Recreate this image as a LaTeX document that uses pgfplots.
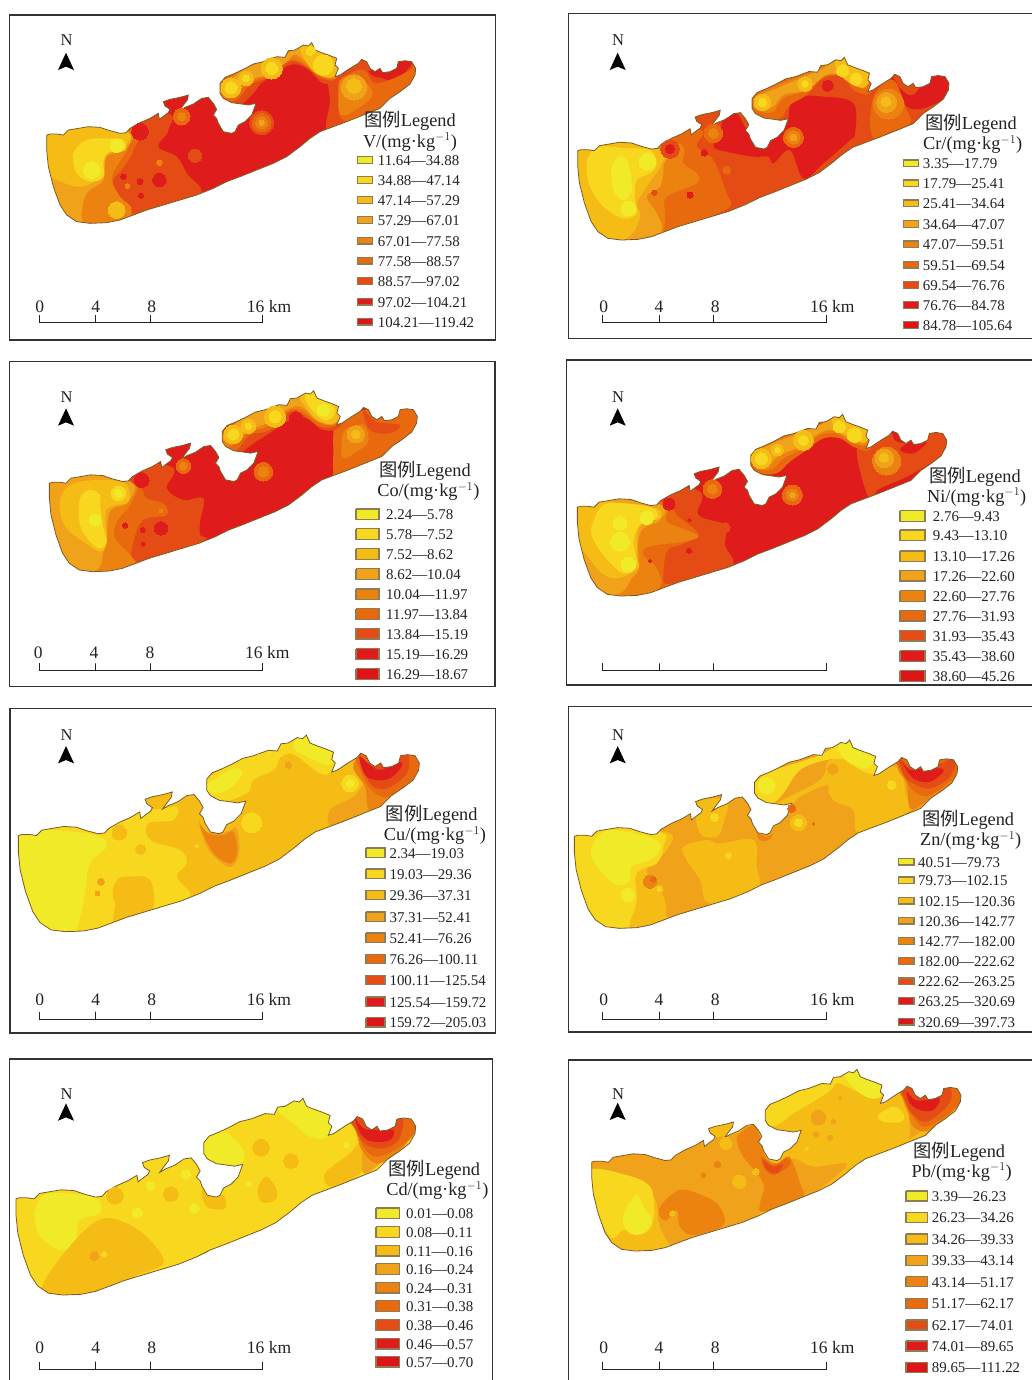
\documentclass[border=0pt]{standalone}
\usepackage{pgfplots}
\usepackage{pgfplotstable}
\usepackage{fontspec}
\setmainfont{Liberation Serif}
\newfontfamily\cjk{Noto Sans CJK SC}
\pgfplotsset{compat=1.18}
\definecolor{a1}{HTML}{F0EA28}\definecolor{a2}{HTML}{F7D81E}\definecolor{a3}{HTML}{F6BC16}
\definecolor{a4}{HTML}{F1A21B}\definecolor{a5}{HTML}{EC8210}\definecolor{a6}{HTML}{E9690F}
\definecolor{a7}{HTML}{E54B14}\definecolor{a8}{HTML}{E01B1B}\definecolor{a9}{HTML}{DD1418}
\definecolor{swb}{HTML}{8E7C58}\definecolor{cst}{HTML}{7A5A20}\definecolor{ink}{HTML}{222222}\definecolor{frm}{HTML}{333333}
\pgfplotstableread{
x y
-4000 -4000
6000 -4000
6000 5000
-4000 5000
-4000 -4000
140 405
150 402
170 402
190 405
205 390
235 385
265 380
300 382
330 392
360 400
378 398
390 385
420 368
450 355
475 340
478 358
495 345
505 338
510 328
495 318
490 305
510 298
540 292
565 285
562 300
548 318
538 332
555 322
580 312
605 295
625 292
640 310
650 328
640 345
650 355
655 370
670 395
695 400
705 395
715 375
735 365
755 345
768 310
745 315
725 312
695 308
670 295
660 280
660 250
675 232
700 222
730 208
760 192
790 185
830 170
855 172
865 152
885 150
910 135
925 138
935 128
945 150
965 158
985 165
1010 175
1005 195
1015 205
1005 230
1020 225
1050 205
1075 190
1085 178
1100 185
1110 205
1125 215
1140 205
1148 218
1170 215
1190 205
1195 185
1215 182
1235 185
1247 205
1245 225
1230 252
1200 275
1170 295
1140 325
1090 345
1040 365
1000 380
960 395
930 415
900 440
860 470
820 490
770 510
720 530
680 545
640 565
590 585
540 600
490 615
440 630
400 645
360 660
320 668
270 670
230 665
200 645
180 615
160 560
145 500
140 450
140 405
}\coast
\pgfplotsset{
 panel/.style n args={6}{at={(#1pt,-#2pt)},anchor=north west,scale only axis,width=#3pt,height=#4pt,
   xmin=0,xmax=#5,ymin=0,ymax=#6,y dir=reverse,hide axis,clip=true},
 table/cxy/.style={x expr={\cW+(\thisrowno{0}-140)*(\cE-\cW)/1107},y expr={\cT+(\thisrowno{1}-128)*(\cB-\cT)/542}}
}
\newcommand\Rg[2]{\addplot[fill=#1,draw=none,smooth cycle,tension=.6] coordinates {#2};}
\newcommand\Ci[4]{\addplot[only marks,mark=*,mark size=#2/3,color=#1,mark options={solid,fill=#1,draw=#1,line width=0pt}] coordinates {(#3,#4)};}
\newcommand\Base[5]{\def\cW{#1}\def\cE{#2}\def\cT{#3}\def\cB{#4}%
 \addplot[fill=#5,draw=none,skip coords between index={0}{5}] table[cxy] {\coast};}
\newcommand\Mask{\addplot[fill=white,draw=none,even odd rule] table[cxy] {\coast};
 \addplot[draw=cst,line width=.8pt,fill=none,skip coords between index={0}{5}] table[cxy] {\coast};}
\newcommand\Frame[4]{\addplot[draw=frm,line width=1.6pt] coordinates {(#1,#3) (#2,#3) (#2,#4) (#1,#4) (#1,#3)};}
\newcommand\North[3]{\pgfmathsetmacro\na{#1-24}\pgfmathsetmacro\nb{#1+24}\pgfmathsetmacro\nt{#3}\pgfmathsetmacro\nc{#3+52}\pgfmathsetmacro\nd{#3+42}%
 \addplot[fill=black,draw=none] coordinates {(#1,\nt) (\nb,\nc) (#1,\nd) (\na,\nc) (#1,\nt)};
 \node[font=\fontsize{16.5}{18}\selectfont,text=ink,yshift=-1pt,xshift=.5pt] at (axis cs:#1,#2) {N};}
\newcommand\Bar[3]{\pgfmathsetmacro\ba{#1}\pgfmathsetmacro\bb{#1+170}\pgfmathsetmacro\bc{#1+333}\pgfmathsetmacro\bd{#1+671}%
 \addplot[draw=ink,line width=.9pt] coordinates {(\ba,#3) (\ba,#2) (\bb,#2) (\bb,#3) (\bb,#2) (\bc,#2) (\bc,#3) (\bc,#2) (\bd,#2) (\bd,#3)};}
\newcommand\BarL[5]{\def\F{\fontsize{17.5}{20}\selectfont}%
 \node[font=\F,text=ink,xshift=.5pt] at (axis cs:#1,#5) {0};\node[font=\F,text=ink] at (axis cs:#2,#5) {4};
 \node[font=\F,text=ink] at (axis cs:#3,#5) {8};\node[font=\F,text=ink,anchor=west,inner sep=0pt] at (axis cs:#4,#5) {16 km};}
\newcommand\Title[5]{\node[font=\fontsize{18.3}{20}\selectfont,text=ink,yshift=-.7pt] at (axis cs:#1,#2) {{\cjk 图例}Legend};
 \node[font=\fontsize{18.3}{20}\selectfont,text=ink,yshift=-.3pt] at (axis cs:#3,#4) {#5/(mg·kg$^{-1}$)};}
\newcommand\Leg[3]{\pgfmathsetmacro\ya{#1-\LH}\pgfmathsetmacro\yb{#1+\LH}%
 \addplot[fill=#2,draw=swb,line width=1.1pt] coordinates {(\LA,\ya) (\LB,\ya) (\LB,\yb) (\LA,\yb) (\LA,\ya)};
 \node[anchor=west,inner sep=0pt,font=\fontsize{14.9}{16}\selectfont,text=ink,yshift=-.6pt] at (axis cs:\LX,#1) {#3};}
\begin{document}
\begin{tikzpicture}
\useasboundingbox (0,0) rectangle (1032pt,-1380pt);
%%%%%%%%%%% V
\begin{axis}[panel={0}{0}{510}{350}{1530}{1050}]
\Base{140}{1247}{128}{670}{a8}
\Rg{a7}{(100,350)(480,335)(505,390)(475,440)(530,470)(560,520)(598,590)(400,680)(100,700)}
\Rg{a6}{(100,350)(395,385)(400,450)(365,510)(340,540)(350,590)(400,650)(330,690)(100,700)}
\Rg{a5}{(100,350)(380,390)(385,440)(350,500)(335,540)(360,590)(395,630)(340,690)(100,700)}
\Rg{a4}{(100,350)(370,395)(375,450)(320,470)(310,540)(260,580)(245,640)(240,700)(100,700)}
\Rg{a3}{(100,350)(370,390)(372,440)(320,465)(300,530)(240,560)(170,540)(140,520)(100,450)}
\Rg{a2}{(225,450)(260,420)(320,415)(370,420)(375,450)(330,455)(310,480)(310,530)(270,545)(230,520)(220,480)}
\Ci{a1}{25}{275}{510}\Ci{a1}{20}{350}{437}\Ci{a3}{25}{350}{630}
\Ci{a8}{20}{478}{540}\Ci{a8}{9}{420}{545}\Ci{a8}{8}{423}{587}\Ci{a8}{8}{370}{530}\Ci{a5}{7}{382}{558}\Ci{a5}{8}{478}{488}
\Ci{a8}{25}{420}{395}\Ci{a6}{25}{545}{350}\Ci{a5}{12}{545}{350}\Ci{a7}{20}{585}{467}
\Ci{a7}{36}{785}{368}\Ci{a6}{28}{785}{368}\Ci{a5}{18}{785}{368}\Ci{a4}{8}{785}{368}
\Rg{a7}{(985,240)(1010,230)(1090,170)(1120,220)(1190,240)(1260,170)(1260,260)(1000,400)(990,300)}
\Rg{a6}{(1020,350)(1030,240)(1090,210)(1130,250)(1230,210)(1260,170)(1260,260)(1100,360)}
\Rg{a8}{(1105,215)(1130,210)(1160,225)(1130,232)}
\Rg{a5}{(1020,240)(1060,225)(1100,250)(1115,290)(1050,340)(1020,340)(1015,290)}
\Ci{a4}{38}{1062}{262}\Ci{a3}{22}{1062}{258}
\Rg{a7}{(650,250)(760,180)(860,150)(900,130)(1020,170)(1020,240)(970,250)(920,205)(870,195)(790,245)(760,280)(720,315)(680,315)(650,290)}
\Rg{a6}{(655,255)(750,190)(860,150)(935,125)(1015,175)(1005,238)(960,232)(910,195)(870,185)(810,230)(750,255)(710,300)(665,300)}
\Rg{a5}{(660,260)(750,195)(860,155)(930,130)(1015,175)(1005,235)(960,225)(910,190)(870,180)(810,225)(750,245)(700,290)(660,290)}
\Rg{a4}{(670,260)(740,205)(860,160)(935,130)(1010,180)(1000,225)(950,215)(890,165)(860,185)(800,225)(740,240)(695,280)(670,285)}
\Rg{a3}{(900,140)(935,125)(960,155)(1012,175)(1002,230)(950,222)(915,180)}
\Ci{a3}{30}{693}{263}\Ci{a2}{18}{693}{263}\Ci{a3}{22}{738}{235}\Ci{a2}{10}{738}{235}\Ci{a3}{32}{815}{205}\Ci{a2}{18}{815}{205}\Ci{a2}{30}{970}{195}\Ci{a2}{14}{932}{152}
\Mask
\Frame{28}{1486}{45}{1020}
\North{198}{118}{158}
\Bar{117}{968}{945}\BarL{118}{287}{455}{740}{920}
\Title{1230}{360}{1230}{425}{V}
\def\LA{1072}\def\LB{1117}\def\LH{10}\def\LX{1133}
\Leg{480}{a1}{11.64—34.88}\Leg{540}{a2}{34.88—47.14}\Leg{600}{a3}{47.14—57.29}\Leg{660}{a4}{57.29—67.01}\Leg{722}{a5}{67.01—77.58}\Leg{782}{a6}{77.58—88.57}\Leg{843}{a7}{88.57—97.02}\Leg{905}{a8}{97.02—104.21}\Leg{965}{a9}{104.21—119.42}
\end{axis}
%%%%%%%%%%% Cr
\begin{axis}[panel={560}{0}{472}{350}{1416}{1050}]
\Base{53}{1167}{172}{720}{a7}
\Rg{a6}{(0,400)(400,385)(410,440)(460,480)(500,580)(510,620)(430,660)(300,730)(0,760)}
\Rg{a5}{(0,400)(340,425)(370,490)(410,520)(410,550)(320,590)(315,640)(310,690)(280,730)(0,760)}
\Rg{a4}{(0,400)(295,450)(310,500)(300,560)(260,590)(290,640)(305,690)(260,740)(0,760)}
\Rg{a3}{(0,400)(290,445)(305,490)(260,560)(230,610)(240,650)(190,720)(0,760)}
\Rg{a2}{(85,470)(120,440)(200,445)(270,450)(290,490)(270,520)(230,540)(225,600)(230,640)(190,655)(130,620)(90,560)(80,510)}
\Rg{a1}{(155,500)(180,470)(205,490)(215,570)(190,600)(160,570)}
\Ci{a1}{22}{205}{625}\Ci{a1}{25}{262}{485}
\Rg{a8}{(700,295)(790,290)(880,310)(885,400)(870,420)(790,490)(730,535)(690,450)(640,490)(625,470)(580,470)(500,455)(460,440)(480,400)(490,360)(530,340)(570,400)(630,400)(680,370)}
\Rg{a8}{(995,225)(1020,265)(1060,285)(1110,225)(1175,240)(1170,285)(1090,325)(1040,320)(1020,280)(990,250)}
\Rg{a6}{(945,280)(1000,240)(1040,330)(1050,370)(980,400)(945,420)(930,370)}
\Ci{a5}{45}{985}{312}\Ci{a4}{30}{980}{307}\Ci{a3}{15}{978}{305}
\Rg{a6}{(570,290)(640,250)(780,200)(850,170)(930,210)(930,280)(880,270)(850,230)(790,235)(740,285)(690,315)(660,355)(600,350)(570,320)}
\Rg{a5}{(580,295)(640,260)(780,205)(850,172)(930,215)(915,265)(870,240)(840,215)(780,235)(740,270)(670,295)(640,335)(600,335)(580,320)}
\Rg{a4}{(590,290)(650,265)(780,210)(840,180)(930,215)(910,265)(860,230)(800,225)(740,270)(670,285)(640,320)(600,325)(585,315)}
\Rg{a3}{(825,190)(850,172)(925,215)(915,260)(880,255)(840,225)}
\Ci{a3}{25}{607}{307}\Ci{a2}{13}{607}{307}\Ci{a3}{22}{735}{252}\Ci{a2}{10}{735}{252}\Ci{a2}{18}{888}{238}\Ci{a2}{18}{848}{212}
\Ci{a8}{17}{803}{257}\Ci{a7}{28}{330}{447}\Ci{a8}{14}{330}{447}\Ci{a8}{10}{433}{458}\Ci{a7}{8}{283}{578}\Ci{a8}{9}{390}{585}\Ci{a6}{12}{500}{510}\Ci{a5}{8}{392}{538}
\Ci{a6}{28}{460}{400}\Ci{a5}{15}{460}{400}\Ci{a6}{30}{700}{412}\Ci{a5}{20}{700}{412}\Ci{a4}{10}{700}{412}\Ci{a7}{5}{838}{287}
\Mask
\addplot[draw=frm,line width=1.6pt] coordinates {(1420,40) (25,40) (25,1015) (1420,1015)};
\North{173}{118}{158}
\Bar{128}{968}{945}\BarL{130}{297}{466}{750}{920}
\Title{1233}{370}{1238}{433}{Cr}
\def\LA{1030}\def\LB{1076}\def\LH{10}\def\LX{1088}
\Leg{490}{a1}{3.35—17.79}\Leg{550}{a2}{17.79—25.41}\Leg{610}{a3}{25.41—34.64}\Leg{672}{a4}{34.64—47.07}\Leg{733}{a5}{47.07—59.51}\Leg{794}{a6}{59.51—69.54}\Leg{855}{a7}{69.54—76.76}\Leg{915}{a8}{76.76—84.78}\Leg{975}{a9}{84.78—105.64}
\end{axis}
%%%%%%%%%%% Co
\begin{axis}[panel={0}{355}{510}{340}{1530}{1020}]
\Base{148}{1252}{107}{650}{a8}
\Rg{a7}{(100,340)(495,330)(500,400)(550,435)(610,430)(600,500)(600,540)(615,555)(480,610)(400,640)(100,690)}
\Rg{a6}{(100,340)(390,385)(440,430)(490,445)(500,480)(430,495)(400,560)(395,610)(420,640)(100,680)}
\Rg{a5}{(100,340)(385,380)(395,440)(350,500)(345,550)(390,600)(400,630)(300,680)(100,680)}
\Rg{a4}{(100,340)(380,375)(385,440)(330,470)(320,560)(310,590)(280,650)(100,680)}
\Rg{a3}{(185,420)(220,385)(300,375)(375,385)(385,440)(320,465)(320,560)(300,590)(250,560)(200,520)(180,470)}
\Rg{a2}{(240,430)(270,405)(300,420)(300,450)(310,520)(320,560)(300,580)(270,560)(240,510)}
\Ci{a2}{22}{355}{415}\Ci{a1}{12}{355}{415}\Ci{a1}{18}{285}{495}\Ci{a2}{20}{298}{555}
\Ci{a8}{22}{425}{375}\Ci{a6}{22}{550}{333}\Ci{a5}{12}{550}{333}\Ci{a6}{28}{790}{350}\Ci{a5}{16}{790}{350}
\Ci{a8}{20}{483}{520}\Ci{a8}{8}{428}{525}\Ci{a8}{6}{430}{567}\Ci{a8}{8}{375}{511}\Ci{a5}{6}{483}{467}
\Rg{a6}{(1000,240)(1010,210)(1090,165)(1260,155)(1260,240)(1020,360)(1000,350)(1000,290)}
\Rg{a7}{(1090,165)(1130,200)(1200,210)(1170,235)(1110,225)}
\Rg{a5}{(1035,225)(1090,210)(1105,260)(1070,290)(1030,310)(1025,270)}
\Ci{a4}{26}{1067}{238}\Ci{a3}{13}{1067}{238}
\Rg{a7}{(660,240)(760,170)(870,130)(930,105)(1025,150)(1020,215)(970,225)(920,190)(880,190)(800,240)(760,265)(720,295)(690,300)(660,275)}
\Rg{a6}{(665,235)(760,165)(870,130)(935,105)(1025,155)(1010,210)(960,215)(910,180)(870,170)(810,225)(750,240)(710,285)(670,280)}
\Rg{a5}{(670,235)(760,170)(870,130)(935,105)(1025,150)(1010,205)(960,205)(900,165)(860,170)(800,215)(750,230)(700,270)(670,270)}
\Rg{a4}{(675,230)(760,175)(880,130)(935,105)(1025,155)(1005,205)(960,200)(900,155)(850,170)(800,205)(750,225)(700,262)(675,260)}
\Rg{a3}{(900,125)(940,105)(1025,155)(1000,205)(950,195)(920,160)}
\Rg{a2}{(915,130)(940,112)(1005,160)(985,195)(950,180)}
\Ci{a1}{18}{970}{165}\Ci{a8}{20}{888}{190}
\Ci{a3}{28}{700}{238}\Ci{a2}{17}{700}{238}\Ci{a3}{22}{745}{213}\Ci{a2}{10}{745}{213}\Ci{a3}{32}{825}{185}\Ci{a2}{18}{825}{185}
\Mask
\Frame{28}{1485}{20}{995}
\North{198}{122}{160}
\Bar{117}{947}{925}\BarL{113}{282}{450}{735}{892}
\Title{1275}{345}{1285}{408}{Co}
\def\LA{1068}\def\LB{1137}\def\LH{16}\def\LX{1158}
\Leg{478}{a1}{2.24—5.78}\Leg{537}{a2}{5.78—7.52}\Leg{597}{a3}{7.52—8.62}\Leg{657}{a4}{8.62—10.04}\Leg{718}{a5}{10.04—11.97}\Leg{777}{a6}{11.97—13.84}\Leg{836}{a7}{13.84—15.19}\Leg{897}{a8}{15.19—16.29}\Leg{957}{a9}{16.29—18.67}
\end{axis}
%%%%%%%%%%% Ni
\begin{axis}[panel={560}{355}{472}{340}{1416}{1020}]
\Base{52}{1160}{178}{723}{a8}
\Rg{a7}{(0,400)(395,400)(415,480)(495,510)(495,570)(518,630)(420,670)(280,730)(0,760)}
\Rg{a6}{(0,400)(300,440)(350,480)(400,520)(415,545)(360,570)(320,590)(310,680)(330,690)(200,760)(0,760)}
\Rg{a5}{(0,400)(295,450)(320,500)(380,525)(415,545)(370,560)(265,575)(250,600)(290,640)(295,700)(170,760)(0,760)}
\Rg{a4}{(0,400)(290,445)(300,495)(250,520)(235,560)(235,640)(215,670)(170,720)(0,760)}
\Rg{a3}{(0,400)(120,430)(200,450)(290,460)(300,490)(240,510)(230,600)(235,640)(170,670)(120,650)(80,600)(0,500)}
\Rg{a2}{(100,500)(130,450)(200,445)(280,460)(290,490)(240,510)(220,560)(230,630)(190,655)(130,600)(95,540)}
\Ci{a1}{20}{180}{505}\Ci{a1}{28}{180}{560}\Ci{a1}{22}{205}{628}\Ci{a1}{20}{260}{488}
\Rg{a7}{(890,290)(925,280)(990,235)(1010,260)(1090,270)(1110,235)(1165,240)(1160,290)(1050,360)(960,400)(925,425)}
\Rg{a8}{(1020,285)(1050,262)(1100,262)(1060,295)}
\Ci{a5}{42}{980}{318}\Ci{a4}{28}{973}{310}\Ci{a3}{14}{972}{308}
\Ci{a8}{18}{327}{447}\Ci{a8}{5}{388}{495}\Ci{a8}{8}{387}{587}\Ci{a8}{5}{270}{617}\Ci{a7}{5}{928}{315}
\Ci{a6}{28}{457}{402}\Ci{a5}{15}{457}{402}\Ci{a6}{30}{697}{420}\Ci{a5}{18}{697}{420}\Ci{a4}{8}{697}{420}\Ci{a7}{15}{495}{518}\Ci{a7}{22}{340}{635}
\Rg{a6}{(565,300)(640,255)(770,210)(850,175)(930,215)(930,285)(880,275)(840,250)(790,250)(740,285)(690,320)(650,355)(600,355)(570,330)}
\Rg{a5}{(570,300)(640,260)(770,212)(850,178)(928,218)(918,270)(870,260)(830,235)(780,240)(730,280)(670,310)(640,340)(600,345)(575,325)}
\Rg{a4}{(578,300)(640,265)(770,215)(845,180)(925,220)(915,265)(870,250)(810,225)(760,245)(720,275)(660,300)(625,330)(590,330)}
\Rg{a3}{(815,195)(850,178)(925,222)(915,262)(870,245)(830,220)}
\Ci{a3}{30}{604}{311}\Ci{a2}{18}{604}{311}\Ci{a3}{18}{652}{285}\Ci{a2}{8}{652}{285}\Ci{a3}{30}{730}{256}\Ci{a2}{15}{730}{256}\Ci{a2}{22}{883}{240}\Ci{a2}{18}{838}{215}
\Mask
\addplot[draw=frm,line width=1.6pt] coordinates {(1420,15) (20,15) (20,990) (1420,990)};
\North{173}{122}{160}
\Bar{128}{947}{925}
\Title{1245}{362}{1250}{425}{Ni}
\def\LA{1020}\def\LB{1095}\def\LH{16}\def\LX{1118}
\Leg{483}{a1}{2.76—9.43}\Leg{541}{a2}{9.43—13.10}\Leg{604}{a3}{13.10—17.26}\Leg{662}{a4}{17.26—22.60}\Leg{723}{a5}{22.60—27.76}\Leg{782}{a6}{27.76—31.93}\Leg{842}{a7}{31.93—35.43}\Leg{903}{a8}{35.43—38.60}\Leg{963}{a9}{38.60—45.26}
\end{axis}
%%%%%%%%%%% Cu
\begin{axis}[panel={0}{700}{510}{340}{1530}{1020}]
\Base{55}{1258}{105}{695}{a3}
\Rg{a2}{(0,350)(440,330)(530,320)(520,360)(445,370)(450,420)(540,450)(560,490)(530,530)(570,590)(460,625)(460,600)(450,540)(400,530)(350,540)(345,620)(290,720)(0,720)}
\Rg{a1}{(0,380)(60,400)(130,390)(220,395)(300,410)(320,440)(270,490)(255,580)(240,650)(200,710)(0,720)}
\Ci{a3}{22}{358}{398}\Ci{a3}{15}{422}{448}
\Rg{a3}{(345,550)(400,530)(450,540)(460,620)(400,640)(345,610)}
\Rg{a2}{(610,250)(700,190)(850,120)(920,100)(1010,150)(1000,210)(960,220)(870,160)(820,210)(760,240)(740,280)(640,310)}
\Rg{a1}{(610,265)(640,240)(700,205)(728,220)(690,265)(650,280)}
\Rg{a1}{(880,140)(915,100)(1015,150)(985,195)(920,170)}
\Ci{a3}{30}{863}{195}\Ci{a4}{10}{865}{195}
\Ci{a2}{28}{785}{190}\Ci{a2}{30}{755}{368}\Ci{a2}{25}{1050}{250}\Ci{a1}{12}{1050}{250}\Ci{a2}{5}{590}{437}\Ci{a4}{10}{303}{545}\Ci{a4}{7}{292}{580}
\Rg{a4}{(595,360)(620,395)(680,395)(710,385)(718,460)(695,500)(660,485)(620,440)}
\Rg{a5}{(600,375)(625,400)(670,405)(700,395)(712,450)(695,490)(650,470)(620,425)}
\Rg{a4}{(990,330)(1060,290)(1100,250)(1120,320)(1000,380)}
\Rg{a5}{(1060,200)(1100,160)(1270,150)(1270,260)(1120,335)(1095,260)}
\Rg{a6}{(1075,160)(1200,155)(1270,160)(1265,220)(1170,290)(1115,270)(1085,220)}
\Rg{a7}{(1075,155)(1110,200)(1200,160)(1225,165)(1220,220)(1160,265)(1110,250)}
\Rg{a8}{(1078,170)(1105,190)(1140,210)(1195,185)(1205,200)(1170,235)(1130,240)(1095,225)}
\Mask
\Frame{30}{1487}{25}{998}
\North{198}{103}{138}
\Bar{117}{957}{935}\BarL{118}{287}{455}{740}{898}
\Title{1295}{343}{1305}{405}{Cu}
\def\LA{1098}\def\LB{1155}\def\LH{14}\def\LX{1168}
\Leg{458}{a1}{2.34—19.03}\Leg{521}{a2}{19.03—29.36}\Leg{585}{a3}{29.36—37.31}\Leg{650}{a4}{37.31—52.41}\Leg{713}{a5}{52.41—76.26}\Leg{777}{a6}{76.26—100.11}\Leg{840}{a7}{100.11—125.54}\Leg{905}{a8}{125.54—159.72}\Leg{967}{a9}{159.72—205.03}
\end{axis}
%%%%%%%%%%% Zn
\begin{axis}[panel={560}{700}{472}{340}{1416}{1020}]
\Base{43}{1193}{120}{685}{a4}
\Rg{a3}{(0,400)(310,395)(320,450)(260,510)(310,590)(320,650)(330,665)(200,730)(0,720)}
\Rg{a3}{(370,440)(440,420)(480,430)(580,420)(590,500)(590,570)(450,610)(420,540)(380,480)}
\Rg{a3}{(410,310)(500,300)(490,370)(470,410)(420,400)}
\Rg{a3}{(820,250)(1000,200)(1040,290)(1050,330)(900,400)(880,330)(820,300)}
\Rg{a3}{(650,310)(780,240)(810,180)(900,190)(950,240)(820,280)(800,255)(720,290)(700,310)}
\Rg{a2}{(575,270)(620,220)(780,165)(860,120)(955,160)(950,220)(900,210)(860,180)(800,180)(720,210)(670,280)(630,315)(590,300)}
\Rg{a1}{(835,140)(870,120)(955,160)(920,205)(870,190)(840,160)}
\Ci{a1}{25}{620}{257}
\Rg{a2}{(0,400)(290,395)(310,440)(290,490)(230,520)(230,600)(215,650)(180,700)(0,720)}
\Rg{a1}{(95,440)(130,395)(200,395)(290,420)(300,450)(270,480)(215,500)(210,540)(170,555)(120,510)(95,470)}
\Ci{a1}{20}{203}{585}\Ci{a5}{20}{270}{545}\Ci{a6}{8}{280}{538}\Ci{a3}{13}{297}{568}\Ci{a2}{6}{297}{568}
\Ci{a3}{24}{715}{368}\Ci{a2}{12}{715}{368}\Ci{a3}{25}{995}{255}\Ci{a2}{13}{995}{255}\Ci{a4}{16}{818}{207}\Ci{a2}{8}{505}{467}\Ci{a2}{12}{463}{352}\Ci{a6}{4}{760}{371}
\Rg{a5}{(590,400)(620,410)(640,400)(625,420)(600,420)}\Ci{a6}{12}{695}{325}
\Rg{a5}{(1015,210)(1040,180)(1210,170)(1200,230)(1090,310)(1050,325)(1040,250)}
\Rg{a6}{(1020,175)(1210,165)(1195,220)(1110,285)(1060,272)(1030,220)}
\Rg{a7}{(1015,165)(1050,200)(1140,190)(1190,170)(1170,230)(1110,265)(1060,250)(1030,225)}
\Rg{a8}{(1025,185)(1050,210)(1090,205)(1140,205)(1150,215)(1110,245)(1060,235)}
\Mask
\addplot[draw=frm,line width=1.6pt] coordinates {(1420,20) (25,20) (25,995) (1420,995)};
\North{173}{103}{138}
\Bar{128}{957}{935}\BarL{130}{297}{466}{750}{898}
\Title{1225}{357}{1232}{420}{Zn}
\def\LA{1015}\def\LB{1062}\def\LH{10}\def\LX{1074}
\Leg{485}{a1}{40.51—79.73}\Leg{541}{a2}{79.73—102.15}\Leg{602}{a3}{102.15—120.36}\Leg{662}{a4}{120.36—142.77}\Leg{723}{a5}{142.77—182.00}\Leg{783}{a6}{182.00—222.62}\Leg{844}{a7}{222.62—263.25}\Leg{903}{a8}{263.25—320.69}\Leg{965}{a9}{320.69—397.73}
\end{axis}
%%%%%%%%%%% Cd
\begin{axis}[panel={0}{1050}{510}{330}{1530}{990}]
\Base{48}{1247}{145}{735}{a2}
\Rg{a1}{(105,480)(130,435)(200,430)(290,445)(300,490)(240,510)(225,580)(180,600)(120,560)(105,510)}
\Rg{a1}{(590,300)(620,250)(675,245)(730,300)(720,340)(640,345)(605,330)}
\Rg{a1}{(830,170)(900,140)(1005,190)(985,260)(930,260)(880,220)(840,190)}
\Rg{a3}{(130,700)(180,625)(250,545)(310,505)(380,520)(450,570)(490,640)(400,680)(270,750)(130,750)}
\Ci{a4}{13}{283}{618}\Ci{a2}{8}{312}{612}
\Ci{a3}{25}{783}{293}\Ci{a3}{22}{873}{333}\Ci{a3}{25}{345}{437}\Ci{a3}{22}{513}{432}
\Rg{a3}{(775,410)(800,380)(830,420)(825,450)(790,458)(775,440)}
\Ci{a1}{14}{558}{372}\Ci{a1}{13}{452}{408}\Ci{a1}{15}{412}{488}\Ci{a1}{14}{583}{475}\Ci{a1}{8}{747}{402}\Ci{a1}{8}{1040}{285}
\Rg{a3}{(605,420)(640,440)(670,435)(675,475)(620,470)}
\Rg{a3}{(975,370)(1050,310)(1080,280)(1090,360)(995,410)}
\Rg{a4}{(1065,220)(1085,300)(1092,370)(1150,330)(1200,260)(1100,200)}
\Rg{a5}{(1055,205)(1100,195)(1260,190)(1250,240)(1190,310)(1130,340)(1085,300)(1070,250)}
\Rg{a6}{(1055,195)(1240,190)(1255,230)(1200,290)(1130,320)(1090,290)(1075,250)}
\Rg{a7}{(1058,190)(1190,195)(1210,210)(1195,270)(1150,295)(1100,285)(1070,245)}
\Rg{a8}{(1065,205)(1090,235)(1130,240)(1180,240)(1170,270)(1120,275)(1085,255)}
\Mask
\addplot[draw=frm,line width=1.6pt] coordinates {(28,1000) (28,27) (1478,27) (1478,1000)};
\North{198}{130}{160}
\Bar{117}{957}{935}\BarL{118}{287}{455}{740}{892}
\Title{1303}{358}{1312}{420}{Cd}
\def\LA{1128}\def\LB{1198}\def\LH{16}\def\LX{1218}
\Leg{490}{a1}{0.01—0.08}\Leg{546}{a2}{0.08—0.11}\Leg{602}{a3}{0.11—0.16}\Leg{657}{a4}{0.16—0.24}\Leg{713}{a5}{0.24—0.31}\Leg{768}{a6}{0.31—0.38}\Leg{825}{a7}{0.38—0.46}\Leg{881}{a8}{0.46—0.57}\Leg{935}{a9}{0.57—0.70}
\end{axis}
%%%%%%%%%%% Pb
\begin{axis}[panel={560}{1050}{472}{330}{1416}{990}]
\Base{95}{1203}{58}{603}{a3}
\Rg{a4}{(80,320)(150,310)(300,310)(335,350)(330,400)(280,420)(180,370)(80,350)}
\Rg{a4}{(280,420)(340,300)(530,250)(560,225)(610,280)(620,330)(610,430)(590,500)(480,535)(400,560)(340,590)(300,530)(290,460)}
\Rg{a4}{(695,330)(760,350)(860,345)(740,445)(715,445)}
\Rg{a5}{(540,250)(580,225)(600,260)(615,320)(650,340)(680,320)(695,330)(720,400)(725,445)(610,485)(600,460)(610,400)(550,320)(530,270)}
\Rg{a5}{(300,470)(340,430)(380,420)(470,460)(490,525)(400,555)(360,530)(350,480)(320,510)(300,500)}
\Rg{a6}{(605,320)(640,345)(680,325)(690,345)(640,375)(610,350)}
\Rg{a7}{(610,330)(640,350)(670,340)(650,370)(620,360)}
\Rg{a2}{(605,200)(640,160)(800,90)(860,60)(975,110)(950,145)(860,110)(830,100)(800,130)(700,190)(660,220)(620,230)}
\Rg{a1}{(850,70)(890,55)(970,105)(950,145)(900,130)}
\Rg{a2}{(90,360)(180,370)(270,410)(280,510)(250,550)(190,540)(150,560)(90,430)}
\Rg{a1}{(195,480)(230,435)(250,470)(275,510)(250,550)(210,550)(190,520)}
\Rg{a2}{(955,195)(1000,170)(1030,190)(1025,215)(970,215)}
\Ci{a4}{22}{775}{203}\Ci{a4}{7}{820}{215}\Ci{a4}{8}{768}{253}\Ci{a4}{8}{810}{263}\Ci{a4}{4}{840}{143}\Ci{a3}{20}{538}{395}\Ci{a3}{18}{497}{280}\Ci{a3}{10}{587}{365}\Ci{a5}{10}{472}{343}\Ci{a5}{7}{430}{375}\Ci{a3}{8}{337}{490}\Ci{a2}{4}{740}{295}
\Rg{a4}{(1020,140)(1040,110)(1050,240)(1060,260)(1210,150)(1210,110)(1050,100)}
\Rg{a5}{(1030,150)(1030,105)(1210,105)(1200,160)(1110,240)(1060,230)(1045,190)}
\Rg{a6}{(1030,105)(1210,105)(1190,170)(1100,230)(1060,200)(1040,165)}
\Rg{a7}{(1030,105)(1150,105)(1175,130)(1160,170)(1100,215)(1060,195)(1040,160)}
\Rg{a8}{(1040,125)(1065,150)(1100,150)(1140,145)(1120,180)(1080,180)(1050,160)}
\Mask
\addplot[draw=frm,line width=1.6pt] coordinates {(25,1000) (25,30) (1420,30)};
\North{173}{130}{158}
\Bar{128}{957}{935}\BarL{130}{297}{466}{750}{892}
\Title{1198}{302}{1205}{365}{Pb}
\def\LA{1038}\def\LB{1102}\def\LH{15}\def\LX{1115}
\Leg{438}{a1}{3.39—26.23}\Leg{502}{a2}{26.23—34.26}\Leg{567}{a3}{34.26—39.33}\Leg{631}{a4}{39.33—43.14}\Leg{695}{a5}{43.14—51.17}\Leg{760}{a6}{51.17—62.17}\Leg{825}{a7}{62.17—74.01}\Leg{888}{a8}{74.01—89.65}\Leg{952}{a9}{89.65—111.22}
\end{axis}
\end{tikzpicture}
\end{document}
